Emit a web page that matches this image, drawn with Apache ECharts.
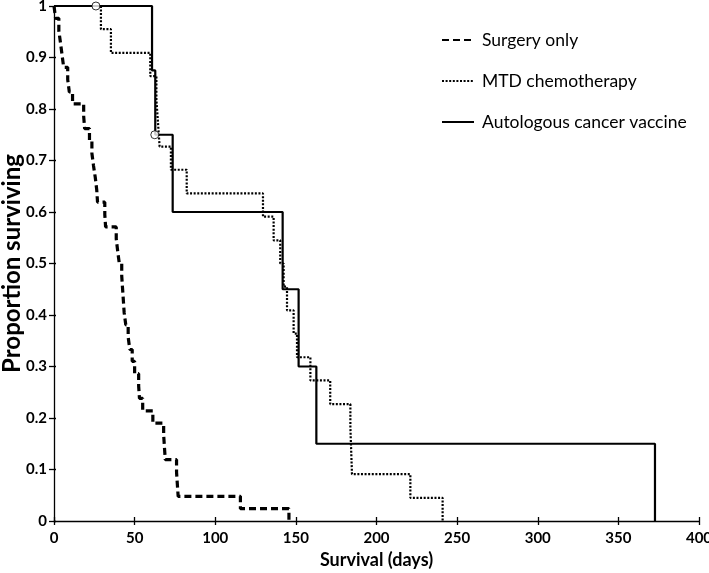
<!DOCTYPE html>
<html><head><meta charset="utf-8">
<script src="https://cdn.jsdelivr.net/npm/echarts@6/dist/echarts.min.js"></script>
<style>html,body{margin:0;padding:0;background:#fff}#c{width:709px;height:573px}</style>
</head><body><div id="c"></div>
<script>
const seriesNames = ['Surgery only', 'MTD chemotherapy', 'Autologous cancer vaccine'];

const surgeryDays = [0, 1, 3, 4, 5, 6, 8.5, 9.5, 11.5, 18.4, 19, 22, 23.5, 24.5, 25.6, 26.5, 27, 31.5, 32, 38.6, 39.5, 40.5, 42, 42.5, 43, 43.5, 44.5, 46, 47, 48.5, 50, 52.5, 53, 55, 61.3, 68, 68.5, 69, 76, 76.5, 77, 115.6, 145.7];
const surgerySurv = [1, 0.976, 0.952, 0.929, 0.905, 0.881, 0.857, 0.833, 0.81, 0.786, 0.762, 0.738, 0.714, 0.69, 0.667, 0.643, 0.619, 0.595, 0.571, 0.548, 0.524, 0.5, 0.476, 0.452, 0.429, 0.405, 0.381, 0.357, 0.333, 0.31, 0.286, 0.262, 0.238, 0.214, 0.19, 0.167, 0.143, 0.119, 0.095, 0.071, 0.048, 0.024, 0];

const mtdDays = [0, 29.1, 35.3, 59.7, 63.5, 64.5, 65.5, 72.5, 82.3, 129.6, 136.2, 140.3, 142.4, 144.5, 148.6, 150.7, 159, 171.3, 183.8, 184.3, 184.8, 221, 241];
const mtdSurv = [1, 0.955, 0.909, 0.864, 0.818, 0.773, 0.727, 0.682, 0.636, 0.591, 0.545, 0.5, 0.455, 0.409, 0.364, 0.318, 0.273, 0.227, 0.182, 0.136, 0.091, 0.045, 0];

const vaccineDays = [0, 60.8, 62.8, 73.6, 141.8, 151.7, 162.7, 372.7];
const vaccineSurv = [1, 0.875, 0.75, 0.6, 0.45, 0.3, 0.15, 0];

const censorDays = [26, 62.5];
const censorSurv = [1, 0.75];

const xTickValues = [0, 50, 100, 150, 200, 250, 300, 350, 400];
const yTickLabels = ['0', '0.1', '0.2', '0.3', '0.4', '0.5', '0.6', '0.7', '0.8', '0.9', '1'];

const FONT = 'Lato';
const zip = (a, b) => a.map((v, i) => [v, b[i]]);

const chart = echarts.init(document.getElementById('c'), null, {renderer: 'canvas'});

const axisCommon = {
  axisLine: {show: true, lineStyle: {color: '#000', width: 1.3}},
  splitLine: {show: false}
};

chart.setOption({
  animation: false,
  backgroundColor: '#fff',
  grid: {left: 54, right: 10, top: 6, bottom: 52, containLabel: false, outerBoundsMode: 'none'},
  legend: {
    data: seriesNames,
    orient: 'vertical',
    left: 441,
    top: 31,
    padding: 0,
    itemWidth: 32,
    itemHeight: 14,
    itemGap: 23,
    itemStyle: {opacity: 0},
    textStyle: {fontFamily: FONT, fontSize: 17.5, color: '#000', padding: [0, 0, 0, 3]}
  },
  xAxis: [{
    type: 'value', min: 0, max: 400, interval: 50,
    ...axisCommon,
    axisTick: {show: true, inside: false, length: 4, lineStyle: {color: '#000', width: 1.3}},
    axisLabel: {fontFamily: FONT, fontWeight: 'bold', fontSize: 15, color: '#000', margin: 10,
      formatter: v => xTickValues.includes(v) ? String(v) : ''},
    name: 'Survival (days)', nameLocation: 'middle', nameGap: 30, nameMoveOverlap: false,
    nameTextStyle: {fontFamily: FONT, fontWeight: 'bold', fontSize: 18, color: '#000'}
  }, {
    type: 'value', min: 0, max: 400, interval: 50, position: 'bottom',
    axisLine: {show: false}, splitLine: {show: false},
    axisTick: {show: true, inside: true, length: 4, lineStyle: {color: '#000', width: 1.3}},
    axisLabel: {show: false}
  }],
  yAxis: [{
    type: 'value', min: 0, max: 1, interval: 0.1,
    ...axisCommon,
    axisTick: {show: true, inside: false, length: 5, lineStyle: {color: '#000', width: 1.3}},
    axisLabel: {fontFamily: FONT, fontWeight: 'bold', fontSize: 15, color: '#000', margin: 7,
      formatter: v => yTickLabels[Math.round(v * 10)]},
    name: 'Proportion surviving', nameLocation: 'middle', nameGap: 30, nameMoveOverlap: false,
    nameTextStyle: {fontFamily: FONT, fontWeight: 'bold', fontSize: 24, color: '#000'}
  }, {
    type: 'value', min: 0, max: 1, interval: 0.1, position: 'left',
    axisLine: {show: false}, splitLine: {show: false},
    axisTick: {show: true, inside: true, length: 2, lineStyle: {color: '#000', width: 1.3}},
    axisLabel: {show: false}
  }],
  series: [{
    type: 'line', name: seriesNames[0], data: zip(surgeryDays, surgerySurv),
    step: 'end', symbol: 'none', clip: false,
    lineStyle: {color: '#000', width: 3.2, type: [7, 4]},
    itemStyle: {color: '#000'}
  }, {
    type: 'line', name: seriesNames[1], data: zip(mtdDays, mtdSurv),
    step: 'end', symbol: 'none', clip: false,
    lineStyle: {color: '#000', width: 2.2, type: [2, 1.6]},
    itemStyle: {color: '#000'}
  }, {
    type: 'line', name: seriesNames[2], data: zip(vaccineDays, vaccineSurv),
    step: 'end', symbol: 'none', clip: false,
    lineStyle: {color: '#000', width: 2.2, type: 'solid'},
    itemStyle: {color: '#000'}
  }, {
    type: 'scatter', name: 'censored', data: zip(censorDays, censorSurv),
    symbol: 'circle', symbolSize: 8, clip: false, z: 10,
    itemStyle: {color: '#fff', borderColor: '#000', borderWidth: 1}
  }]
});
</script>
</body></html>
